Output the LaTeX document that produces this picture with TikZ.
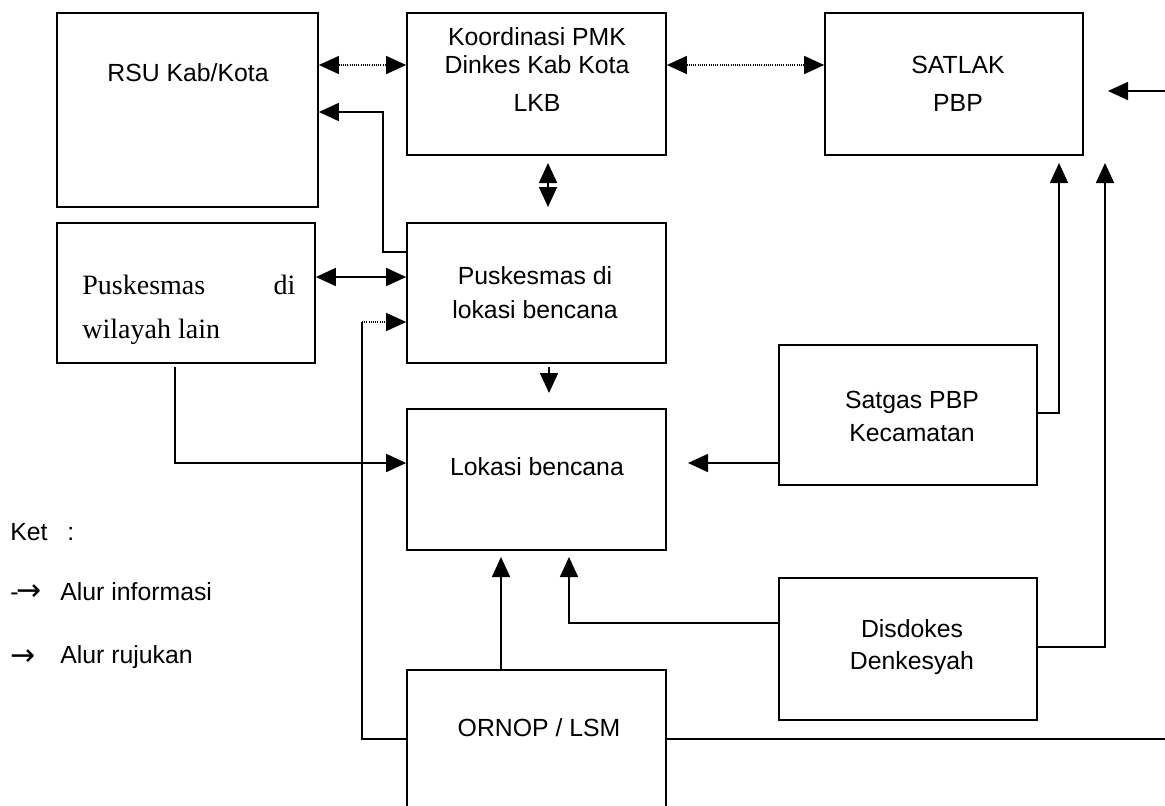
\documentclass[tikz,border=0pt]{standalone}
\usepackage{fontspec}
\setmainfont{Liberation Sans}
\newfontfamily\serifpw{Liberation Serif}
\newfontfamily\arrowfont{DejaVu Sans}
\usetikzlibrary{arrows.meta,fit}
\begin{document}
\begin{tikzpicture}[x=0.5bp,y={(0bp,-0.5bp)},
  box/.style={draw, line width=0.85bp, inner sep=0pt},
  lbl/.style={font=\fontsize{12.4bp}{14bp}\selectfont, align=center, inner sep=0pt},
  conn/.style={line width=0.85bp},
  arr/.style={-{Triangle[length=10bp,width=9bp]}},
  darr/.style={{Triangle[length=10bp,width=9bp]}-{Triangle[length=10bp,width=9bp]}},
  dots/.style={line width=0.6bp, dash pattern=on 0.5bp off 0.6bp}]
\useasboundingbox (0,0) rectangle (1165,805);
\clip (0,0) rectangle (1165,805);

% boxes
\node[box, fit={(57,13)(318,207)}] (rsu) {};
\node[lbl] (rsut) at (188,73) {RSU Kab/Kota};
\node[box, fit={(407,13)(666,155)}] (koor) {};
\node[lbl] (koort) at (537,70) {Koordinasi PMK\\Dinkes Kab Kota\\[5bp]LKB};
\node[box, fit={(825,13)(1083,155)}] (satlak) {};
\node[lbl] (satlakt) at (958,84) {SATLAK\\[5bp]PBP};
\node[box, fit={(57,223)(315,363)}] (pwl) {};
\node[lbl, font=\serifpw\fontsize{14bp}{16bp}\selectfont, anchor=base west] (pwl1) at (82,294) {\makebox[106.5bp][l]{Puskesmas\hfill di}};
\node[lbl, font=\serifpw\fontsize{14bp}{16bp}\selectfont, anchor=base west] (pwl2) at (82,338) {wilayah lain};
\node[box, fit={(407,223)(666,363)}] (plb) {};
\node[lbl] (plbt) at (535,293) {Puskesmas di\\[3bp]lokasi bencana};
\node[box, fit={(407,409)(666,550)}] (lb) {};
\node[lbl] (lbt) at (537,467) {Lokasi bencana};
\node[box, fit={(779,345)(1037,485)}] (satgas) {};
\node[lbl] (satgast) at (912,416) {Satgas PBP\\[2.5bp]Kecamatan};
\node[box, fit={(779,578)(1037,720)}] (dis) {};
\node[lbl] (dist) at (912,647) {Disdokes\\[2bp]Denkesyah};
\node[box, fit={(407,670)(666,830)}] (ornop) {};
\node[lbl] (ornopt) at (539,728) {ORNOP / LSM};

% legend
\node[lbl, anchor=west] (ket) at (10,532) {Ket\hspace{0.8em}:};
\node[lbl, anchor=base west] (l1a) at (10,600) {-\kern-0.1em{\arrowfont\fontsize{15bp}{16bp}\selectfont →}};
\node[lbl, anchor=west] (l1b) at (60,592) {Alur informasi};
\node[lbl, anchor=base west] (l2a) at (10,665) {{\arrowfont\fontsize{15bp}{16bp}\selectfont →}};
\node[lbl, anchor=west] (l2b) at (60,657) {Alur rujukan};

% helper coordinates
\coordinate (ya) at (0,65);
\coordinate (e1) at (1165,91);
\coordinate (e1t) at (1108,91);
\coordinate (k1) at (548,163);
\coordinate (k2) at (548,207);
\coordinate (yb) at (0,252);
\coordinate (c383) at (383,112);
\coordinate (yc) at (0,277);
\coordinate (yd) at (0,739);
\coordinate (c362) at (362,322);
\coordinate (p1) at (549,367);
\coordinate (p2) at (549,393);
\coordinate (q1) at (175,367);
\coordinate (q2) at (175,463);
\coordinate (r1) at (688,463);
\coordinate (s1) at (1059,413);
\coordinate (s2) at (1059,163);
\coordinate (t1) at (1105,647);
\coordinate (t2) at (1105,163);
\coordinate (u1) at (569,623);
\coordinate (u2) at (569,557);
\coordinate (v1) at (501,557);
\coordinate (w1) at (1165,739);

% connectors
\draw[dots, darr] (rsu.east |- ya) -- (koor.west |- ya);
\draw[dots, darr] (koor.east |- ya) -- (satlak.west |- ya);
\draw[conn, arr] (e1) -- (e1t);
\draw[conn, darr] (k1) -- (k2);
\draw[conn, arr] (plb.west |- yb) -| (c383) -- (rsu.east |- c383);
\draw[conn, darr] (pwl.east |- yc) -- (plb.west |- yc);
\draw[conn] (ornop.west |- yd) -| (c362);
\draw[dots, arr] (c362) -- (plb.west |- c362);
\draw[conn, arr] (p1) -- (p2);
\draw[conn, arr] (q1) -- (q2) -- (lb.west |- q2);
\draw[conn, arr] (satgas.west |- r1) -- (r1);
\draw[conn, arr] (satgas.east |- s1) -- (s1) -- (s2);
\draw[conn, arr] (dis.east |- t1) -- (t1) -- (t2);
\draw[conn, arr] (dis.west |- u1) -- (u1) -- (u2);
\draw[conn, arr] (ornop.north -| v1) -- (v1);
\draw[conn] (ornop.east |- w1) -- (w1);
\end{tikzpicture}
\end{document}
